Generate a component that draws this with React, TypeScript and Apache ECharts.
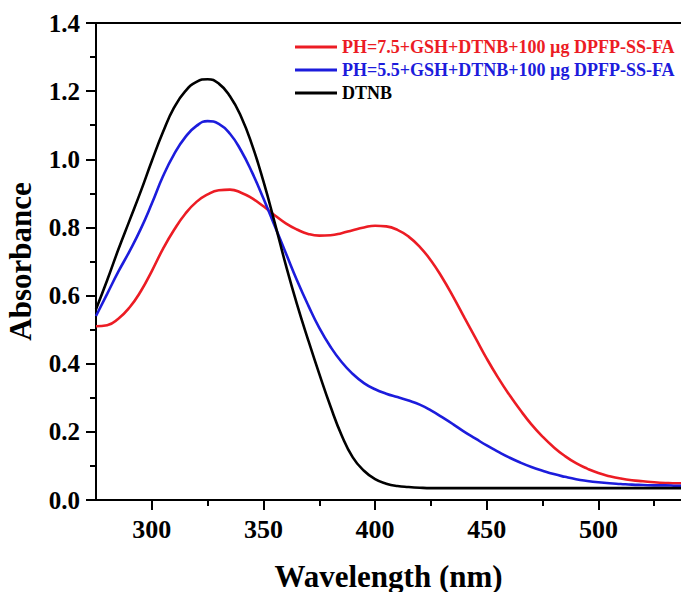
import React, { useEffect, useRef } from "react";
import * as echarts from "echarts";

const wavelengths = [
  275, 280, 285, 290, 295, 300, 305, 310, 315, 320, 325, 330, 335, 340, 345, 350,
  355, 360, 365, 370, 375, 380, 385, 390, 395, 400, 405, 410, 415, 420, 425, 430,
  435, 440, 445, 450, 455, 460, 465, 470, 475, 480, 485, 490, 495, 500, 505, 510,
  515, 520, 525, 530, 535, 537,
];

const ph75Values = [
  0.51, 0.513, 0.532, 0.565, 0.612, 0.672, 0.737, 0.793, 0.84, 0.875, 0.897,
  0.909, 0.911, 0.902, 0.885, 0.862, 0.836, 0.812, 0.794, 0.781, 0.776, 0.777,
  0.783, 0.792, 0.8, 0.805, 0.803, 0.793, 0.773, 0.743, 0.703, 0.653, 0.596,
  0.535, 0.475, 0.415, 0.36, 0.31, 0.264, 0.222, 0.186, 0.155, 0.129, 0.108,
  0.092, 0.079, 0.07, 0.063, 0.058, 0.055, 0.052, 0.05, 0.049, 0.049,
];

const ph55Values = [
  0.54, 0.605, 0.67, 0.73, 0.795, 0.87, 0.95, 1.015, 1.065, 1.098, 1.112, 1.104,
  1.075, 1.025, 0.96, 0.885, 0.805, 0.725, 0.645, 0.572, 0.505, 0.45, 0.405,
  0.37, 0.343, 0.325, 0.312, 0.302, 0.292, 0.28, 0.263, 0.243, 0.222, 0.2, 0.18,
  0.16, 0.142, 0.125, 0.11, 0.097, 0.086, 0.076, 0.068, 0.061, 0.056, 0.052,
  0.049, 0.047, 0.045, 0.044, 0.043, 0.043, 0.042, 0.042,
];

const dtnbValues = [
  0.56, 0.645, 0.735, 0.82, 0.905, 0.995, 1.08, 1.152, 1.2, 1.227, 1.235, 1.222,
  1.185, 1.125, 1.04, 0.935, 0.815, 0.69, 0.575, 0.47, 0.37, 0.275, 0.19, 0.125,
  0.086, 0.061, 0.048, 0.041, 0.038, 0.036, 0.035, 0.035, 0.035, 0.035, 0.035,
  0.035, 0.035, 0.035, 0.035, 0.035, 0.035, 0.035, 0.035, 0.035, 0.035, 0.035,
  0.035, 0.035, 0.035, 0.035, 0.035, 0.035, 0.035, 0.035,
];

const seriesNames = [
  "PH=7.5+GSH+DTNB+100 \u00b5g DPFP-SS-FA",
  "PH=5.5+GSH+DTNB+100 \u00b5g DPFP-SS-FA",
  "DTNB",
];
const seriesColors = ["#ec1c24", "#1c1cdc", "#000000"];
const xMajorTicks = [300, 350, 400, 450, 500];
const xMinorTicks = [325, 375, 425, 475, 525];

const FONT = '"Liberation Serif", "Times New Roman", serif';

export default function App() {
  const ref = useRef<HTMLDivElement>(null);

  useEffect(() => {
    document.body.style.margin = "0";
    document.body.style.overflow = "hidden";
    if (!ref.current) return;
    const chart = echarts.init(ref.current, null, { renderer: "svg" });
    const allValues = [ph75Values, ph55Values, dtnbValues];
    chart.setOption({
      animation: false,
      backgroundColor: "#ffffff",
      textStyle: { fontFamily: FONT },
      grid: {
        left: 96,
        right: 0,
        top: 23,
        bottom: 92,
        containLabel: false,
        outerBoundsMode: "none",
      },
      legend: {
        orient: "vertical",
        left: 290,
        top: 33,
        itemGap: 5,
        itemWidth: 42,
        itemHeight: 3,
        icon: "rect",
        data: seriesNames.map((n, i) => ({
          name: n,
          textStyle: { color: seriesColors[i] },
        })),
        textStyle: {
          fontFamily: FONT,
          fontWeight: "bold",
          fontSize: 18,
        },
      },
      xAxis: [
        {
          type: "value",
          min: 275,
          max: 537,
          position: "bottom",
          name: "Wavelength (nm)",
          nameLocation: "middle",
          nameGap: 61,
          nameTextStyle: {
            fontFamily: FONT,
            fontWeight: "bold",
            fontSize: 31,
            color: "#000",
          },
          axisLine: { show: true, onZero: false, lineStyle: { color: "#000", width: 2 } },
          axisTick: {
            show: true,
            inside: false,
            length: 10,
            lineStyle: { color: "#000", width: 2 },
            customValues: xMajorTicks,
          },
          axisLabel: {
            show: true,
            margin: 16,
            fontFamily: FONT,
            fontWeight: "bold",
            fontSize: 26,
            color: "#000",
            customValues: xMajorTicks,
          },
          splitLine: { show: false },
        },
        {
          type: "value",
          min: 275,
          max: 537,
          position: "bottom",
          axisLine: { show: false, onZero: false },
          axisTick: {
            show: true,
            length: 6,
            lineStyle: { color: "#000", width: 2 },
            customValues: xMinorTicks,
          },
          axisLabel: { show: false },
          splitLine: { show: false },
        },
        {
          type: "value",
          min: 275,
          max: 537,
          position: "top",
          axisLine: { show: true, onZero: false, lineStyle: { color: "#000", width: 2 } },
          axisTick: { show: false },
          axisLabel: { show: false },
          splitLine: { show: false },
        },
      ],
      yAxis: {
        type: "value",
        min: 0,
        max: 1.4,
        interval: 0.2,
        name: "Absorbance",
        nameLocation: "middle",
        nameGap: 60,
        nameRotate: 90,
        nameTextStyle: {
          fontFamily: FONT,
          fontWeight: "bold",
          fontSize: 31,
          color: "#000",
        },
        axisLine: { show: true, onZero: false, lineStyle: { color: "#000", width: 2 } },
        axisTick: {
          show: true,
          length: 10,
          lineStyle: { color: "#000", width: 2 },
        },
        minorTick: {
          show: true,
          splitNumber: 2,
          length: 6,
          lineStyle: { color: "#000", width: 2 },
        },
        axisLabel: {
          margin: 16,
          fontFamily: FONT,
          fontWeight: "bold",
          fontSize: 25,
          color: "#000",
          formatter: (v: number) => v.toFixed(1),
        },
        splitLine: { show: false },
      },
      series: seriesNames.map((n, i) => ({
        name: n,
        type: "line",
        xAxisIndex: 0,
        smooth: 0.5,
        symbol: "none",
        lineStyle: { color: seriesColors[i], width: 2.6 },
        itemStyle: { color: seriesColors[i] },
        data: wavelengths.map((w, k) => [w, allValues[i][k]]),
      })),
    });
    return () => chart.dispose();
  }, []);

  return <div ref={ref} style={{ width: 681, height: 592 }} />;
}
